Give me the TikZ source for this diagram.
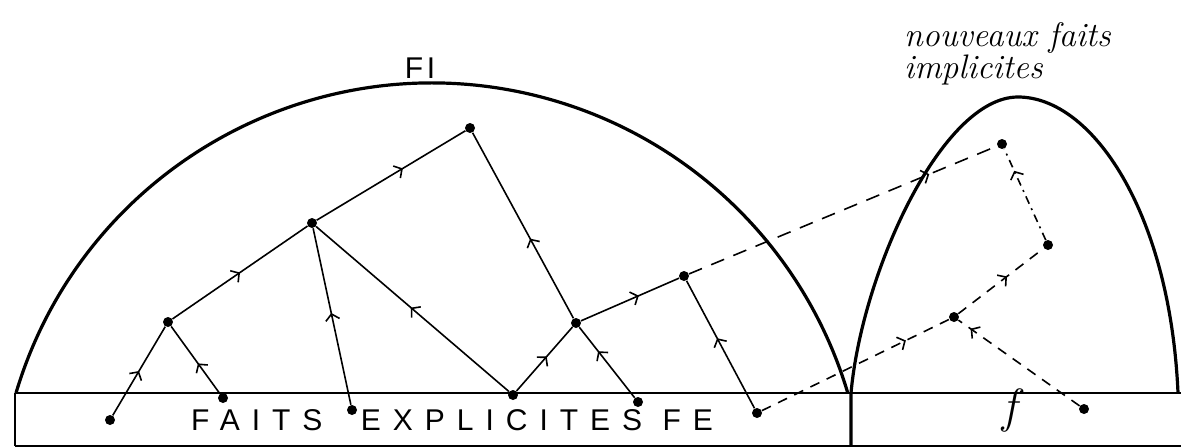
\documentclass[tikz,border=0pt]{standalone}
\usepackage{fontspec}
\usetikzlibrary{decorations.markings,arrows.meta}
\newfontfamily\handcaps[LetterSpace=40]{Liberation Sans}
\newfontfamily\handtitle[LetterSpace=12]{Liberation Sans}

\begin{document}
\begin{tikzpicture}[x=0.5pt,y=0.5pt,
  dot/.style={circle,fill,inner sep=0pt,minimum size=5pt},
  link/.style={line width=0.8pt},
  dome/.style={line width=1.6pt},
  flow/.style={postaction={decorate,decoration={markings,
      mark=at position #1 with {\arrow{Straight Barb[length=3pt,width=7pt]}}}}},
  jump/.style={link,dash pattern=on 7pt off 5pt},
  hop/.style={link,dash pattern=on 5pt off 4pt},
  hopdot/.style={link,dash pattern=on 4pt off 2.5pt on 1pt off 2.5pt}]
\useasboundingbox (0,0) rectangle (1181,447);

% bande des faits explicites
\draw[link] (15,54) -- (1181,54);
\draw[link] (15,1) -- (1181,1);
\draw[link] (15,1) -- (15,54);

% domes
\draw[dome] (16,54) arc[start angle=163.4, end angle=16.6, radius=434];
\draw[dome] (851,1) -- (851,54) .. controls (862,175) and (942,350) .. (1018,350)
  .. controls (1092,350) and (1170,235) .. (1178,54);

% faits
\node[dot] (a1) at (110,27) {};
\node[dot] (a2) at (223,49) {};
\node[dot] (a3) at (352,37) {};
\node[dot] (a4) at (513,52) {};
\node[dot] (a5) at (638,45) {};
\node[dot] (a6) at (757,34) {};
\node[dot] (n1) at (168,125) {};
\node[dot] (n2) at (312,224) {};
\node[dot] (n3) at (470,319) {};
\node[dot] (n4) at (576,124) {};
\node[dot] (n5) at (684,171) {};
\node[dot] (m1) at (1002,303) {};
\node[dot] (m2) at (1048,202) {};
\node[dot] (m3) at (954,130) {};
\node[dot] (b1) at (1084,38) {};

% deductions
\draw[link,flow=0.5] (a1) -- (n1);
\draw[link,flow=0.45] (a2) -- (n1);
\draw[link,flow=0.5] (n1) -- (n2);
\draw[link,flow=0.58] (n2) -- (n3);
\draw[link,flow=0.52] (a3) -- (n2);
\draw[link,flow=0.51] (a4) -- (n2);
\draw[link,flow=0.54] (a4) -- (n4);
\draw[link,flow=0.43] (n4) -- (n3);
\draw[link,flow=0.66] (a5) -- (n4);
\draw[link,flow=0.59] (n4) -- (n5);
\draw[link,flow=0.55] (a6) -- (n5);
\draw[jump,flow=0.78] (n5) -- (m1);
\draw[hop,flow=0.77] (a6) -- (m3);
\draw[hop,flow=0.57] (m3) -- (m2);
\draw[hopdot,flow=0.76] (m2) -- (m1);
\draw[hop,flow=0.9] (b1) -- (m3);

% textes
\node[font=\handtitle\fontsize{15}{15}\selectfont] (fi) at (420,379) {FI};
\node[font=\handcaps\fontsize{15}{15}\selectfont] (fe) at (452,27)
  {FAITS\hspace{9pt} EXPLICITES FE};
\node[font=\itshape\fontsize{24}{24}\selectfont] (f) at (1010,37) {f};
\node[font=\itshape\fontsize{17}{16}\selectfont,align=left,anchor=west] (nf) at (897,393)
  {nouveaux faits\\implicites};
\end{tikzpicture}
\end{document}
